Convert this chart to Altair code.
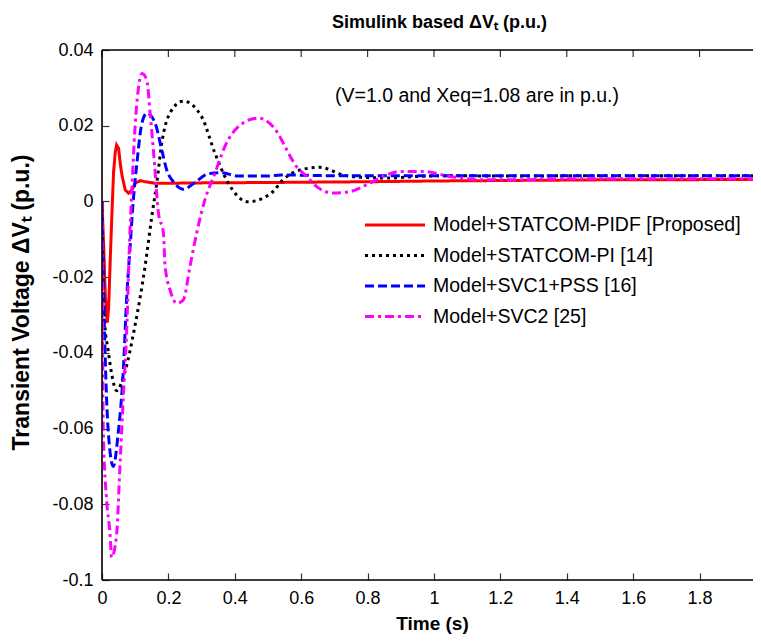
import altair as alt
import pandas as pd

# ---- data ----
t_pidf = [0, 0.005, 0.01, 0.016, 0.02, 0.025, 0.03, 0.035, 0.04, 0.044, 0.05, 0.055, 0.06, 0.07, 0.08,
          0.09, 0.1, 0.115, 0.13, 0.16, 0.2, 0.3, 0.5, 0.8, 1.0, 1.5, 2.0]
v_pidf = [0, -0.012, -0.025, -0.032, -0.028, -0.015, -0.003, 0.008, 0.013, 0.0149, 0.014, 0.010, 0.007,
          0.003, 0.0022, 0.003, 0.0048, 0.0055, 0.0052, 0.0048, 0.0048, 0.0049, 0.005, 0.0052, 0.0054,
          0.0057, 0.0058]

t_pi = [0, 0.005, 0.009, 0.018, 0.03, 0.044, 0.069, 0.099, 0.13, 0.15, 0.165, 0.18, 0.205, 0.245, 0.30,
        0.34, 0.38, 0.44, 0.51, 0.545, 0.596, 0.657, 0.726, 0.8, 0.87, 0.95, 1.05, 1.2, 1.5, 2.0]
v_pi = [0, -0.025, -0.033, -0.039, -0.046, -0.05, -0.045, -0.033, -0.017, -0.004, 0.0049, 0.0154, 0.0234,
        0.0265, 0.0224, 0.0128, 0.0049, -0.0001, 0.0022, 0.0057, 0.0083, 0.009, 0.007, 0.0063, 0.0062,
        0.0066, 0.0068, 0.0067, 0.0068, 0.0068]

t_svc1 = [0, 0.009, 0.019, 0.034, 0.049, 0.064, 0.074, 0.084, 0.094, 0.105, 0.12, 0.135, 0.16, 0.18,
          0.195, 0.215, 0.245, 0.28, 0.32, 0.36, 0.41, 0.5, 0.54, 0.7, 1.0, 1.5, 2.0]
v_svc1 = [0, -0.039, -0.061, -0.070, -0.061, -0.045, -0.026, -0.0128, 0.0, 0.010, 0.0206, 0.0233, 0.0207,
          0.0136, 0.0083, 0.0052, 0.0032, 0.005, 0.0073, 0.0076, 0.0067, 0.0067, 0.007, 0.0068, 0.0068,
          0.0068, 0.0068]

t_svc2 = [0, 0.004, 0.014, 0.024, 0.029, 0.044, 0.054, 0.064, 0.074, 0.084, 0.089, 0.099, 0.109, 0.121,
          0.135, 0.145, 0.158, 0.17, 0.185, 0.19, 0.205, 0.225, 0.245, 0.265, 0.285, 0.31, 0.34, 0.37,
          0.41, 0.47, 0.53, 0.546, 0.586, 0.617, 0.647, 0.697, 0.747, 0.797, 0.847, 0.898, 0.968, 1.048,
          1.148, 1.25, 1.4, 2.0]
v_svc2 = [0, -0.061, -0.079, -0.0876, -0.094, -0.088, -0.070, -0.052, -0.035, -0.0083, 0.0013, 0.0189,
          0.0294, 0.0338, 0.032, 0.0233, 0.0101, -0.003, -0.0084, -0.017, -0.0234, -0.0269, -0.026,
          -0.0172, -0.0084, 0.0004, 0.0074, 0.0145, 0.0197, 0.022, 0.018, 0.0154, 0.0092, 0.0066, 0.0039,
          0.0022, 0.0026, 0.0044, 0.0066, 0.0079, 0.0079, 0.0066, 0.0057, 0.0057, 0.006, 0.006]

labels = ["Model+STATCOM-PIDF [Proposed]", "Model+STATCOM-PI [14]",
          "Model+SVC1+PSS [16]", "Model+SVC2 [25]"]
x_ticks = [0, 0.2, 0.4, 0.6, 0.8, 1, 1.2, 1.4, 1.6, 1.8]
y_ticks = [-0.1, -0.08, -0.06, -0.04, -0.02, 0, 0.02, 0.04]
note = "(V=1.0 and Xeq=1.08 are in p.u.)"
title_text = "Simulink based \u0394V\u209c (p.u.)"
ytitle_text = "Transient Voltage \u0394V\u209c (p.u.)"
xtitle_text = "Time (s)"

# ---- styles / layout ----
W, H = 651, 530          # visible part of the (cropped) axes
XMAX = 1.961             # time shown at the right edge of the visible area
YMIN, YMAX = -0.1, 0.04
FONT = "Liberation Sans"
TK = 7                   # inward tick length (px)
series = [
    (t_pidf, v_pidf, "#ff0000", [1, 0], "linear"),
    (t_pi, v_pi, "#000000", [3, 4], "monotone"),
    (t_svc1, v_svc1, "#0000ff", [9, 4], "monotone"),
    (t_svc2, v_svc2, "#ff00ff", [9, 4, 3, 4], "monotone"),
]

xscale = alt.Scale(domain=[0, XMAX], nice=False, zero=False)
yscale = alt.Scale(domain=[YMIN, YMAX], nice=False, zero=False)
fix = "replace(format(datum.value, '~g'), '\u2212', '-')"

# axes pulled TK px inside the plot so their ticks point inward (MATLAB style)
xaxis = alt.Axis(values=x_ticks, labelExpr=fix, ticks=True, tickSize=TK, tickColor="#333333",
                 tickWidth=1.2, offset=-TK, domain=False, grid=False,
                 labelFont=FONT, labelFontSize=18, labelColor="black", labelPadding=9,
                 labelFlush=False, labelOverlap=False,
                 title=xtitle_text, titleFont=FONT, titleFontSize=19, titleFontWeight="bold",
                 titleColor="black", titleX=330, titleY=43 + TK, titleBaseline="middle")
yaxis = alt.Axis(values=y_ticks, labelExpr=fix, ticks=True, tickSize=TK, tickColor="#333333",
                 tickWidth=1.2, offset=-TK, domain=False, grid=False,
                 labelFont=FONT, labelFontSize=18, labelColor="black", labelPadding=9,
                 labelFlush=False, labelOverlap=False,
                 title=ytitle_text, titleFont=FONT, titleFontSize=23, titleFontWeight="bold",
                 titleColor="black", titleX=-81 - TK, titleY=252, titleBaseline="middle",
                 titleAlign="center", titleAngle=270)

X = lambda f="t": alt.X(f"{f}:Q", scale=xscale, axis=xaxis)
Y = lambda f="v": alt.Y(f"{f}:Q", scale=yscale, axis=yaxis)

layers = []
for tt, vv, col, dash, interp in series:
    df = pd.DataFrame({"t": tt, "v": vv})
    layers.append(
        alt.Chart(df).mark_line(color=col, strokeDash=dash, strokeWidth=3, interpolate=interp,
                                strokeCap="butt", clip=True)
        .encode(x=X(), y=Y())
    )

# top inward ticks, expressed in axis units
TKY = TK * (YMAX - YMIN) / H
nx = len(x_ticks)
top = pd.DataFrame({"t": x_ticks, "v": [YMAX - TKY] * nx, "v2": [YMAX] * nx})
layers.append(alt.Chart(top).mark_rule(color="#333333", strokeWidth=1.2)
              .encode(x=X(), y=Y(), y2="v2:Q"))

# box lines (left, bottom, top; right side lies outside the crop)
frame = pd.DataFrame({"k": [0]})
fstyle = dict(color="black", strokeWidth=1.6)
layers.append(alt.Chart(frame).mark_rule(**fstyle).encode(x=alt.value(0), y=alt.value(0), y2=alt.value(H)))
layers.append(alt.Chart(frame).mark_rule(**fstyle).encode(x=alt.value(0), x2=alt.value(W), y=alt.value(H)))
layers.append(alt.Chart(frame).mark_rule(**fstyle).encode(x=alt.value(0), x2=alt.value(W), y=alt.value(0)))

# legend (no box)
LX, LY0, LDY, LLEN = 263, 175, 30.5, 60
for i, (lab, (_, _, col, dash, _)) in enumerate(zip(labels, series)):
    ldf = pd.DataFrame({"label": [lab]})
    yy = LY0 + i * LDY
    layers.append(alt.Chart(ldf).mark_rule(color=col, strokeDash=dash, strokeWidth=3, strokeCap="butt")
                  .encode(x=alt.value(LX), x2=alt.value(LX + LLEN), y=alt.value(yy)))
    layers.append(alt.Chart(ldf).mark_text(align="left", baseline="middle", font=FONT, fontSize=19.5,
                                           color="black")
                  .encode(x=alt.value(LX + LLEN + 8), y=alt.value(yy), text="label:N"))

# annotation
layers.append(alt.Chart(pd.DataFrame({"note": [note]})).mark_text(
    align="left", baseline="middle", font=FONT, fontSize=19.5, color="black")
    .encode(x=alt.value(233), y=alt.value(46), text="note:N"))

chart = (
    alt.layer(*layers)
    .properties(
        width=W, height=H,
        title=alt.TitleParams(title_text, font=FONT, fontSize=18, fontWeight="bold", color="black",
                              anchor="start", frame="group", dx=230, offset=9),
        padding={"left": 94, "top": 42, "right": 0, "bottom": 54},
        autosize=alt.AutoSizeParams(type="none"),
    )
    .configure_view(stroke=None)
    .configure(background="white")
)

chart.save("out.html", embed_options={"renderer": "svg", "actions": False})
